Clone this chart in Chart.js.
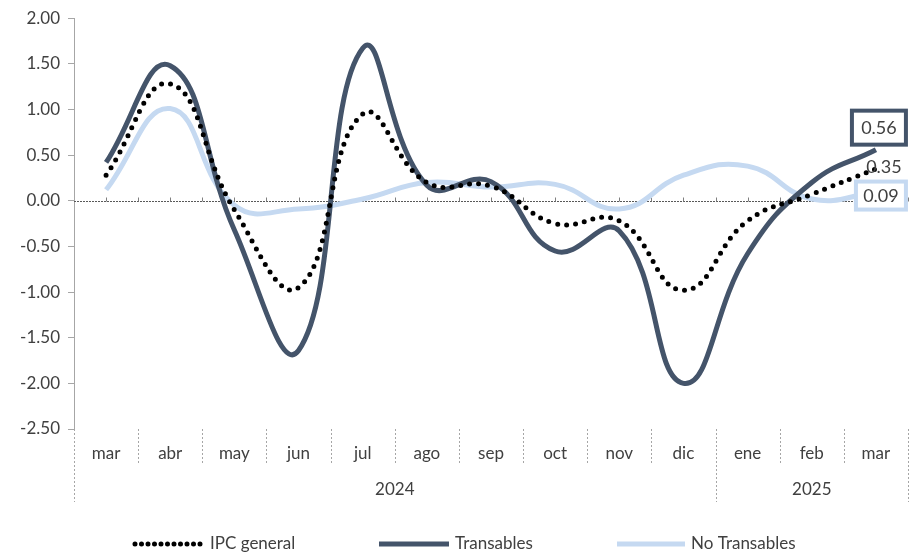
<!DOCTYPE html>
<html>
<head>
<meta charset="utf-8">
<script src="https://cdn.jsdelivr.net/npm/chart.js@4.4.1/dist/chart.umd.min.js"></script>
<style>
  html, body { margin: 0; padding: 0; background: #fff; }
  #wrap { width: 910px; height: 554px; }
</style>
</head>
<body>
<div id="wrap"><canvas id="chart" width="910" height="554"></canvas></div>
<script>
// Datos
const meses = ['mar', 'abr', 'may', 'jun', 'jul', 'ago', 'sep', 'oct', 'nov', 'dic', 'ene', 'feb', 'mar'];
const anios = [
  { label: '2024', desde: 0, hasta: 9 },
  { label: '2025', desde: 10, hasta: 12 }
];
const ipcGeneral   = [0.28, 1.28, -0.10, -0.95, 0.95, 0.20, 0.16, -0.25, -0.22, -0.98, -0.22, 0.07, 0.35];
const transables   = [0.42, 1.48, -0.32, -1.64, 1.67, 0.17, 0.21, -0.55, -0.33, -2.00, -0.58, 0.20, 0.56];
const noTransables = [0.12, 1.01, -0.05, -0.09, 0.02, 0.20, 0.15, 0.18, -0.09, 0.28, 0.38, 0.02, 0.09];

const FUENTE = 'Lato, "Open Sans", sans-serif';
const OSCURO = '#44546A';
const CLARO = '#C5D9F1';
const TEXTO = '#404040';

// Línea del cero, separadores y años
const ejes = {
  id: 'ejes',
  beforeDatasetsDraw(chart) {
    const { ctx, chartArea: a, scales: { x, y } } = chart;
    const y0 = Math.round(y.getPixelForValue(0)) + 0.5;
    const paso = (x.getPixelForValue(1) - x.getPixelForValue(0)) / 2;
    ctx.save();
    ctx.strokeStyle = '#595959';
    ctx.lineWidth = 1;
    ctx.setLineDash([2, 1]);
    ctx.beginPath();
    ctx.moveTo(a.left, y0);
    ctx.lineTo(a.right, y0);
    ctx.stroke();
    ctx.setLineDash([]);
    ctx.strokeStyle = '#7f7f7f';
    ctx.beginPath();
    for (let px = a.left + paso; px <= a.right + 1; px += paso) {
      ctx.moveTo(Math.round(px) + 0.5, y0);
      ctx.lineTo(Math.round(px) + 0.5, y0 - 4);
    }
    ctx.stroke();
    ctx.restore();
  },
  afterDraw(chart) {
    const { ctx, chartArea: a, scales: { x } } = chart;
    const paso = x.getPixelForValue(1) - x.getPixelForValue(0);
    const inicios = anios.map(g => g.desde);
    ctx.save();
    ctx.strokeStyle = '#a6a6a6';
    ctx.lineWidth = 1;
    ctx.setLineDash([2, 2]);
    for (let i = 0; i <= meses.length; i++) {
      const px = Math.round(x.getPixelForValue(0) - paso / 2 + i * paso) + 0.5;
      const largo = (inicios.includes(i) || i === meses.length) ? 73 : 36;
      ctx.beginPath();
      ctx.moveTo(px, a.bottom);
      ctx.lineTo(px, a.bottom + largo);
      ctx.stroke();
    }
    ctx.setLineDash([]);
    ctx.fillStyle = TEXTO;
    ctx.font = '17px ' + FUENTE;
    ctx.textAlign = 'center';
    ctx.textBaseline = 'middle';
    anios.forEach(g => {
      const cx = (x.getPixelForValue(g.desde) + x.getPixelForValue(g.hasta)) / 2;
      ctx.fillText(g.label, cx, a.bottom + 61);
    });
    ctx.restore();
  }
};

// Leyenda inferior
const leyenda = {
  id: 'leyenda',
  afterDraw(chart) {
    const { ctx } = chart;
    const yl = 544;
    const items = [
      { x0: 135, x1: 205, tx: 210 },
      { x0: 379, x1: 449, tx: 455 },
      { x0: 617, x1: 685, tx: 691 }
    ];
    ctx.save();
    ctx.font = '17px ' + FUENTE;
    ctx.textBaseline = 'middle';
    ctx.textAlign = 'left';
    items.forEach((it, i) => {
      const ds = chart.data.datasets[i];
      ctx.strokeStyle = ds.borderColor;
      ctx.lineWidth = ds.borderWidth;
      ctx.lineCap = ds.borderCapStyle || 'butt';
      ctx.setLineDash(ds.borderDash ? [0, 6.5] : []);
      ctx.beginPath();
      ctx.moveTo(it.x0, yl);
      ctx.lineTo(it.x1, yl);
      ctx.stroke();
      ctx.setLineDash([]);
      ctx.fillStyle = TEXTO;
      ctx.fillText(ds.label, it.tx, yl);
    });
    ctx.restore();
  }
};

// Etiquetas del último valor
const etiquetas = {
  id: 'etiquetas',
  afterDatasetsDraw(chart) {
    const { ctx } = chart;
    const n = meses.length - 1;
    const punto = i => chart.getDatasetMeta(i).data[n];
    ctx.save();
    ctx.font = '18px ' + FUENTE;
    ctx.textAlign = 'center';
    ctx.textBaseline = 'middle';
    const caja = (p, dx, dy, w, h, color, texto) => {
      const cx = p.x + dx, cy = p.y + dy;
      ctx.fillStyle = '#fff';
      ctx.fillRect(cx - w / 2, cy - h / 2, w, h);
      ctx.lineWidth = 4;
      ctx.strokeStyle = color;
      ctx.strokeRect(cx - w / 2, cy - h / 2, w, h);
      ctx.fillStyle = TEXTO;
      ctx.fillText(texto, cx, cy + 1);
    };
    caja(punto(1), 3, -22, 54, 34, OSCURO, transables[n].toFixed(2));
    ctx.fillStyle = TEXTO;
    ctx.fillText(ipcGeneral[n].toFixed(2), punto(0).x + 8, punto(0).y - 2);
    caja(punto(2), 5, 3, 50, 28, CLARO, noTransables[n].toFixed(2));
    ctx.restore();
  }
};

new Chart(document.getElementById('chart'), {
  type: 'line',
  data: {
    labels: meses,
    datasets: [
      {
        label: 'IPC general',
        data: ipcGeneral,
        borderColor: '#000',
        borderWidth: 5,
        borderDash: [0, 9],
        borderCapStyle: 'round',
        tension: 0.45
      },
      {
        label: 'Transables',
        data: transables,
        borderColor: OSCURO,
        borderWidth: 5,
        tension: 0.45
      },
      {
        label: 'No Transables',
        data: noTransables,
        borderColor: CLARO,
        borderWidth: 5,
        tension: 0.45
      }
    ]
  },
  options: {
    responsive: false,
    animation: false,
    layout: { padding: { top: 17, right: 2, left: 0, bottom: 47 } },
    elements: { point: { radius: 0, hoverRadius: 0 } },
    plugins: {
      tooltip: { enabled: false },
      legend: { display: false }
    },
    scales: {
      x: {
        offset: true,
        grid: { display: false },
        border: { display: false },
        ticks: { color: TEXTO, font: { family: FUENTE, size: 17 }, padding: 6, maxRotation: 0 },
        afterFit: s => { s.height = 78; }
      },
      y: {
        min: -2.5,
        max: 2,
        grid: { drawOnChartArea: false, drawTicks: true, tickLength: 6, color: '#a6a6a6' },
        border: { color: '#a6a6a6', width: 1 },
        ticks: {
          stepSize: 0.5,
          color: TEXTO,
          padding: 8,
          font: { family: FUENTE, size: 17 },
          callback: v => v.toFixed(2)
        },
        afterFit: s => { s.width = 74; }
      }
    }
  },
  plugins: [ejes, leyenda, etiquetas]
});
</script>
</body>
</html>
